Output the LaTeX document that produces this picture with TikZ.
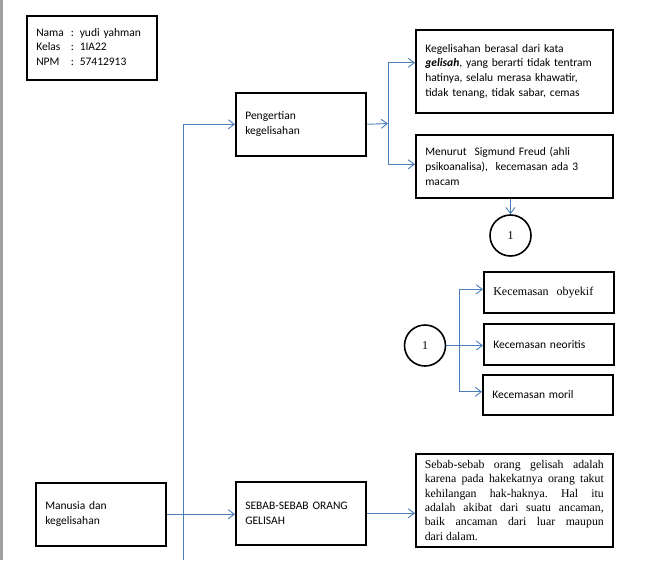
\documentclass[tikz,border=0pt]{standalone}
\usepackage{fontspec}
\setmainfont{Carlito}
\newfontfamily\timesfont{Liberation Serif}
\usetikzlibrary{arrows.meta}
\definecolor{LinkBlue}{HTML}{4A7EBB}
\definecolor{EdgeGray}{HTML}{A0A0A0}

\begin{document}
\begin{tikzpicture}[x=1pt,y=-1pt,
  every node/.style={font=\fontsize{11.5}{14.7}\selectfont},
  box/.style={draw, line width=1.6pt, anchor=north west, inner xsep=9.5pt,
              inner ysep=0pt, align=left},
  num/.style={draw, circle, line width=1.6pt, minimum size=41pt, inner sep=0pt,
              font=\timesfont\fontsize{12}{14}\selectfont},
  link/.style={draw=LinkBlue, line width=0.9pt,
               -{Straight Barb[length=6pt,width=9pt]}}]
  \useasboundingbox (0,0) rectangle (672,560);
  \fill[EdgeGray] (0,0) rectangle (2.5,560);

  % identitas
  \node[box, minimum width=130pt, minimum height=64pt, text width=111pt] (info) at (26,15)
    {\begin{tabular}{@{}l@{\hspace{7pt}}l@{}}
       Nama  & : yudi yahman\\
       Kelas & : 1IA22\\
       NPM   & : 57412913
     \end{tabular}};

  % cabang pengertian
  \node[box, minimum width=130pt, minimum height=63pt, text width=111pt] (peng) at (235,92)
    {Pengertian\\kegelisahan};
  \node[box, minimum width=197pt, minimum height=83pt, text width=178pt] (defn) at (415,29)
    {Kegelisahan berasal dari kata\\
     \textbf{\textit{gelisah}}, yang berarti tidak tentram\\
     hatinya, selalu merasa khawatir,\\
     tidak tenang, tidak sabar, cemas};
  \node[box, minimum width=197pt, minimum height=63pt, text width=178pt] (freud) at (415,134)
    {Menurut\ \ Sigmund Freud (ahli\\
     psikoanalisa),\ \ kecemasan ada 3\\
     macam};
  \node[num] (jump) at (510.5,235.5) {1};

  % tiga macam kecemasan
  \node[num] (land) at (425,345.5) {1};
  \node[box, minimum width=130pt, minimum height=41pt, text width=111pt,
        font=\timesfont\fontsize{12}{14}\selectfont] (oby) at (483,271)
    {Kecemasan\ \ obyekif};
  \node[box, minimum width=130pt, minimum height=41pt, text width=111pt] (neo) at (483,323)
    {Kecemasan neoritis};
  \node[box, minimum width=130pt, minimum height=40pt, text width=111pt] (mor) at (482,374)
    {Kecemasan moril};

  % cabang sebab
  \node[box, minimum width=130pt, minimum height=63pt, text width=111pt] (man) at (35,482)
    {Manusia dan\\kegelisahan};
  \node[box, minimum width=130pt, minimum height=63pt, text width=111pt] (sebab) at (235,481)
    {SEBAB-SEBAB ORANG\\GELISAH};
  \node[box, minimum width=197pt, minimum height=93pt, text width=179pt, inner xsep=9pt,
        align=justify, font=\timesfont\fontsize{11.8}{14.3}\selectfont] (why) at (415,453)
    {\hyphenpenalty=10000\frenchspacing
     Sebab-sebab orang gelisah adalah\linebreak
     karena pada hakekatnya orang takut\linebreak
     kehilangan hak-haknya. Hal itu\linebreak
     adalah akibat dari suatu ancaman,\linebreak
     baik ancaman dari luar maupun\linebreak
     dari dalam.};

  % penghubung
  \coordinate (foot) at (183,560);
  \coordinate (fork) at (388,123.5);
  \coordinate (fork2) at (459.3,345.5);
  \draw[link] (foot) |- (peng.west);
  \draw[link] (peng.east) -- (fork);
  \draw[link] (fork) |- ([yshift=8.5pt]defn.west);
  \draw[link] (fork) |- ([yshift=2pt]freud.west);
  \draw[link] (freud.south -| jump.north) -- (jump.north);
  \draw[link] (land.east) -- (land.east -| neo.west);
  \draw[link] (fork2) |- ([yshift=3pt]oby.west);
  \draw[link] (fork2) |- ([yshift=3pt]mor.west);
  \draw[link] (man.east) -- (man.east -| sebab.west);
  \draw[link] (sebab.east) -- (sebab.east -| why.west);
\end{tikzpicture}
\end{document}
